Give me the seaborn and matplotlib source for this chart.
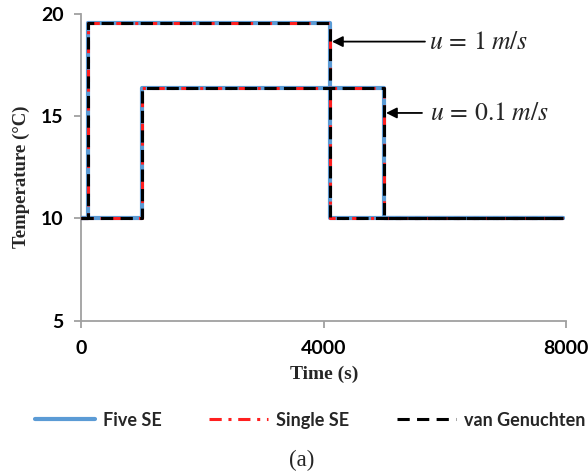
import matplotlib
matplotlib.use("Agg")
import matplotlib.pyplot as plt
import seaborn as sns
from matplotlib.lines import Line2D

sns.set_theme(style="white")
plt.rcParams["mathtext.fontset"] = "stix"

# Step profiles of outlet temperature for two flow velocities
time_fast = [0, 100, 100, 4100, 4100, 7950]
temp_fast = [10, 10, 19.55, 19.55, 10, 10]
time_slow = [0, 1000, 1000, 5000, 5000, 7950]
temp_slow = [10, 10, 16.4, 16.4, 10, 10]

models = ["Five SE", "Single SE", "van Genuchten"]
colors = ["#5B9BD5", "#FF1F1F", "#000000"]
dashes = [None, (4, 2.2, 1, 2.2), (4, 2.4)]
widths = [3.0, 2.2, 2.2]

x_ticks = [0, 4000, 8000]
y_ticks = [5, 10, 15, 20]

fig = plt.figure(figsize=(5.88, 4.76), dpi=100)
ax = fig.add_axes([0.1386, 0.3263, 0.8240, 0.6443])

for name, c, d, w in zip(models, colors, dashes, widths):
    for t, T in ((time_fast, temp_fast), (time_slow, temp_slow)):
        kw = {}
        if d is not None:
            kw["dashes"] = d
        sns.lineplot(x=t, y=T, ax=ax, estimator=None, sort=False,
                     color=c, linewidth=w, **kw)

ax.set_xlim(0, 8000)
ax.set_ylim(5, 20)
ax.set_xticks(x_ticks)
ax.set_yticks(y_ticks)

for s in ("top", "right"):
    ax.spines[s].set_visible(False)
for s in ("left", "bottom"):
    ax.spines[s].set_color("#A0A0A0")
    ax.spines[s].set_linewidth(1.3)
ax.spines["left"].set_zorder(0.5)

ax.tick_params(axis="both", which="major", direction="out", length=5,
               width=1.3, color="#A0A0A0", bottom=True, left=True)
ax.tick_params(axis="y", pad=8)
ax.tick_params(axis="x", pad=9)
for lab in ax.get_xticklabels() + ax.get_yticklabels():
    lab.set_fontfamily("Lato")
    lab.set_fontweight("bold")
    lab.set_fontsize(14)
    lab.set_color("black")

ax.set_xlabel("Time (s)", fontfamily="Liberation Serif", fontweight="bold",
              fontsize=14, labelpad=6)
ax.set_ylabel("Temperature (°C)", fontfamily="Liberation Serif",
              fontweight="bold", fontsize=13.5)
ax.yaxis.set_label_coords(-0.107, 0.47)

# Velocity annotations
arrow = dict(arrowstyle="-|>", color="black", lw=1.3, mutation_scale=16,
             shrinkA=0, shrinkB=0)
ax.annotate("", xy=(4136, 18.65), xytext=(5671, 18.65), arrowprops=arrow)
ax.text(5740, 18.65, r"$u\,=\,1\;m/s$", fontsize=18.5, va="center", ha="left")
ax.annotate("", xy=(5028, 15.16), xytext=(5622, 15.16), arrowprops=arrow)
ax.text(5760, 15.16, r"$u\,=\,0.1\;m/s$", fontsize=18.5, va="center", ha="left")

handles = []
for name, c, d, w in zip(models, colors, dashes, widths):
    h = Line2D([], [], color=c, linewidth=w, label=name)
    if d is not None:
        h.set_dashes(d)
    handles.append(h)
fig.legend(handles=handles, loc="center", bbox_to_anchor=(0.528, 0.117),
           ncol=3, frameon=False, handlelength=3.3, handletextpad=0.45,
           columnspacing=2.6, prop={"family": "Lato", "weight": "bold", "size": 13})

fig.text(0.513, 0.033, "(a)", fontfamily="Liberation Serif", fontsize=16.5,
         ha="center", va="center")

fig.savefig("out.png", dpi=100)
